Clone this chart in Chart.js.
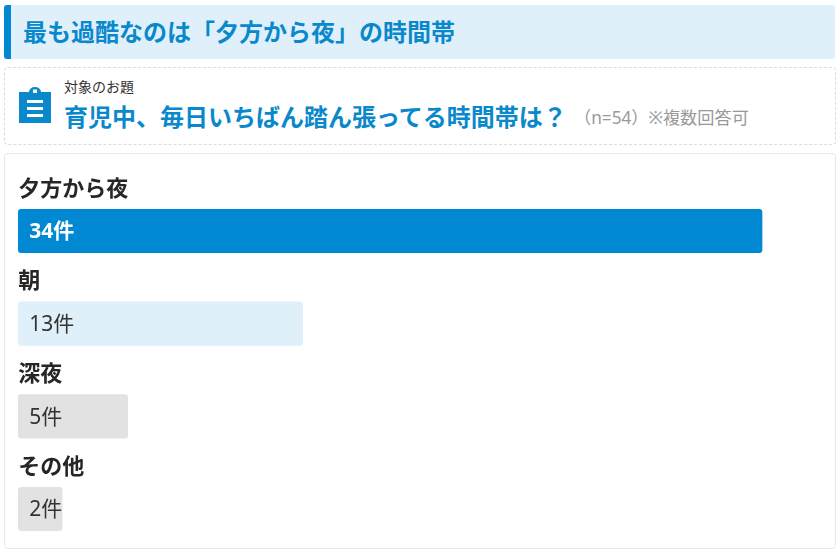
<!DOCTYPE html>
<html lang="ja">
<head>
<meta charset="utf-8">
<script src="https://cdn.jsdelivr.net/npm/chart.js@4"></script>
<style>
  html, body { margin: 0; padding: 0; background: #fff; }
  body { width: 840px; height: 553px; position: relative; overflow: hidden;
    font-family: "Noto Sans", "Noto Sans CJK JP", sans-serif; color: #333; }
  .headline { position: absolute; left: 4px; top: 5px; width: 824px; height: 54px;
    background: #dff0fa; border-left: 7px solid #0088d2; border-radius: 3px;
    font-size: 24px; font-weight: 700; line-height: 53px; color: #0a88cc; text-indent: 12px; }
  .theme { position: absolute; left: 4px; top: 67px; width: 830px; height: 76px;
    border: 1px dashed #dcdcdc; border-radius: 4px; }
  .theme svg { position: absolute; left: 13px; top: 19px; }
  .small { position: absolute; left: 59px; top: 9px; font-size: 14px; line-height: 20px; color: #333; white-space: nowrap; }
  .question { position: absolute; left: 59px; top: 30px; font-size: 24px; font-weight: 700; line-height: 38px;
    color: #0a88cc; white-space: nowrap; }
  .note { position: absolute; left: 569px; top: 36px; font-size: 17.2px; line-height: 28px; color: #999; white-space: nowrap; }
  .card { position: absolute; left: 4px; top: 153px; width: 830px; height: 394px;
    border: 1px solid #e8e8e8; border-radius: 4px; }
  #wrap { position: absolute; left: 0; top: 153px; width: 840px; height: 400px; }
</style>
</head>
<body>
<div class="headline">最も過酷なのは「夕方から夜」の時間帯</div>
<div class="theme">
  <svg width="34" height="36" viewBox="0 0 34 36">
    <path fill="#0a88cc" d="M1 5h10a6 5 0 0 1 12 0h10v31H1z"/>
    <rect x="15" y="2.5" width="4" height="3.5" fill="#fff"/>
    <rect x="9" y="13" width="16" height="3" fill="#fff"/>
    <rect x="9" y="20" width="16" height="3" fill="#fff"/>
    <rect x="9" y="27" width="16" height="3" fill="#fff"/>
  </svg>
  <div class="small">対象のお題</div>
  <div class="question">育児中、毎日いちばん踏ん張ってる時間帯は？</div>
  <div class="note">（n=54）※複数回答可</div>
</div>
<div class="card"></div>
<div id="wrap"><canvas id="chart"></canvas></div>
<script>
const categories = ["夕方から夜", "朝", "深夜", "その他"];
const counts = [34, 13, 5, 2];
const countLabels = ["34件", "13件", "5件", "2件"];
const barColors = ["#0088d2", "#dff0fa", "#e2e2e2", "#e2e2e2"];
const valueColors = ["#ffffff", "#333333", "#333333", "#333333"];

const fontFamily = '"Noto Sans", "Noto Sans CJK JP", sans-serif';

// カテゴリ名は棒の上、件数は棒の中に描く
const barText = {
  id: "barText",
  afterDatasetsDraw(chart) {
    const ctx = chart.ctx;
    const bars = chart.getDatasetMeta(0).data;
    ctx.save();
    ctx.textBaseline = "middle";
    ctx.textAlign = "left";
    bars.forEach((bar, i) => {
      ctx.font = "700 22px " + fontFamily;
      ctx.fillStyle = "#262626";
      ctx.fillText(categories[i], bar.base, bar.y - 41.5);
      ctx.font = (i === 0 ? "700" : "400") + " 21px " + fontFamily;
      ctx.fillStyle = valueColors[i];
      ctx.fillText(countLabels[i], bar.base + 11, bar.y + 1.5);
    });
    ctx.restore();
  },
};

new Chart(document.getElementById("chart"), {
  type: "bar",
  data: {
    labels: categories,
    datasets: [
      {
        data: counts,
        backgroundColor: barColors,
        borderRadius: 3,
        borderSkipped: false,
        barThickness: 43.5,
        clip: false,
      },
    ],
  },
  options: {
    indexAxis: "y",
    responsive: true,
    maintainAspectRatio: false,
    animation: false,
    layout: { padding: { left: 18.3, right: 78, top: 78, bottom: 44 } },
    scales: {
      x: { display: false, min: 0, max: 34 },
      y: { display: false, offset: false },
    },
    plugins: { legend: { display: false }, tooltip: { enabled: false } },
  },
  plugins: [barText],
});
</script>
</body>
</html>
